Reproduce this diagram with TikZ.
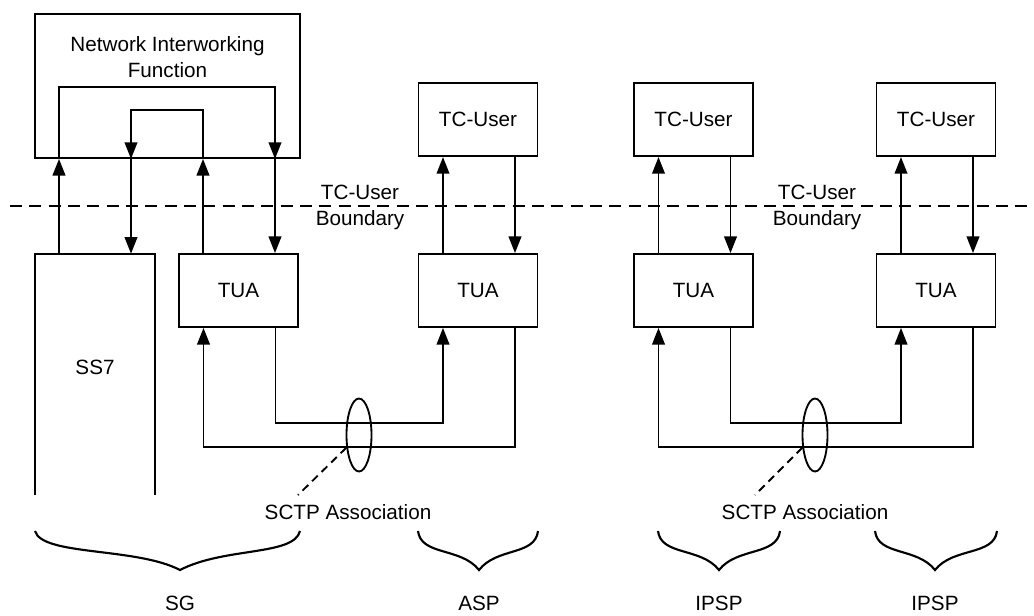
\documentclass[tikz,border=0pt]{standalone}
\usepackage{fontspec}
\setmainfont{Liberation Sans}
\usetikzlibrary{positioning, arrows.meta, shapes.geometric, calc}

\begin{document}
\begin{tikzpicture}[
  x=0.75pt, y=-0.75pt,
  every node/.style={font=\fontsize{15.5}{19.5}\selectfont},
  box/.style={draw, line width=1.4pt, minimum width=89.25pt, minimum height=54.75pt, inner sep=0pt},
  arr/.style={-{Triangle[length=12.5pt, width=9.5pt]}, line width=1.4pt},
  link/.style={line width=1.4pt},
  assoc/.style={draw, ellipse, line width=1.4pt, minimum width=18.75pt, minimum height=54.75pt, inner sep=0pt},
  brc/.style={line width=1.6pt}
]
  \useasboundingbox (0,0) rectangle (1034,615);

  % signalling gateway
  \node[draw, line width=1.4pt, minimum width=198.75pt, minimum height=108pt] (nif) at (167.5,86) {};
  \node[align=center] (niftext) at (167.5,57.5) {Network Interworking\\Function};
  \node[minimum width=90pt, minimum height=180.75pt, inner sep=0pt] (ss7) at (95,374.5) {};
  \node (ss7text) at (95,367) {SS7};
  \draw[link] (ss7.south west) -- (ss7.north west) -- (ss7.north east) -- (ss7.south east);
  \node[box] (tua1) at (238.5,290.5) {TUA};

  % ASP and IPSPs
  \node[box] (tua2) at (478,290.5) {TUA};
  \node[box, above=72pt of tua2] (usr2) {TC-User};
  \node[box] (tua3) at (693.5,290.5) {TUA};
  \node[box, above=72pt of tua3] (usr3) {TC-User};
  \node[box] (tua4) at (936,290.5) {TUA};
  \node[box, above=72pt of tua4] (usr4) {TC-User};

  % loops inside the interworking function
  \coordinate (o1) at (59,87);
  \coordinate (o2) at (275,87);
  \coordinate (i1) at (131,110);
  \coordinate (i2) at (203,110);
  \draw[arr] (o1 |- ss7.north) -- (o1 |- nif.south);
  \draw[arr] (o1 |- nif.south) -- (o1) -- (o2) -- (o2 |- nif.south);
  \draw[arr] (o2 |- nif.south) -- (o2 |- tua1.north);
  \draw[arr] (i2 |- tua1.north) -- (i2 |- nif.south);
  \draw[arr] (i2 |- nif.south) -- (i2) -- (i1) -- (i1 |- nif.south);
  \draw[arr] (i1 |- nif.south) -- (i1 |- ss7.north);

  % TC-User <-> TUA
  \draw[arr] ($(tua2.north)+(-35,0)$) -- ($(usr2.south)+(-35,0)$);
  \draw[arr] ($(usr2.south)+(37,0)$) -- ($(tua2.north)+(37,0)$);
  \draw[arr] ($(tua3.north)+(-35,0)$) -- ($(usr3.south)+(-35,0)$);
  \draw[arr] ($(usr3.south)+(37,0)$) -- ($(tua3.north)+(37,0)$);
  \draw[arr] ($(tua4.north)+(-35,0)$) -- ($(usr4.south)+(-35,0)$);
  \draw[arr] ($(usr4.south)+(37,0)$) -- ($(tua4.north)+(37,0)$);

  % SCTP associations
  \draw[arr] ($(tua2.south)+(37,0)$) -- ++(0,119) -| ($(tua1.south)+(-35,0)$);
  \draw[arr] ($(tua1.south)+(37,0)$) -- ++(0,95) -| ($(tua2.south)+(-35,0)$);
  \draw[arr] ($(tua4.south)+(37,0)$) -- ++(0,119) -| ($(tua3.south)+(-35,0)$);
  \draw[arr] ($(tua3.south)+(37,0)$) -- ++(0,95) -| ($(tua4.south)+(-35,0)$);
  \node[assoc] (assoc1) at (359,435) {};
  \node[assoc] (assoc2) at (815,435) {};
  \node (sctp1) at (348,512) {SCTP Association};
  \node (sctp2) at (805,512) {SCTP Association};
  \coordinate (lead1) at (298,495);
  \coordinate (lead2) at (755,495);
  \draw[link, dash pattern=on 6pt off 4pt] (assoc1.225) -- (lead1);
  \draw[link, dash pattern=on 6pt off 4pt] (assoc2.225) -- (lead2);

  % boundary
  \coordinate (bl) at (10,206);
  \coordinate (br) at (1034,206);
  \draw[link, dash pattern=on 9pt off 5.5pt] (bl) -- (br);
  \node[align=center] (bnd1) at (360,207) {TC-User\\Boundary};
  \node[align=center] (bnd2) at (817,207) {TC-User\\Boundary};

  % braces
  \draw[brc] (35,531) .. controls (42,556) and (136,547) .. (180,570) .. controls (224,547) and (294,556) .. (300,531);
  \draw[brc] (418,531) .. controls (421,556) and (461,547) .. (479,570) .. controls (497,547) and (535,556) .. (538,531);
  \draw[brc] (658,531) .. controls (661,556) and (701,547) .. (719,570) .. controls (737,547) and (777,556) .. (780,531);
  \draw[brc] (875,531) .. controls (878,556) and (917,547) .. (935,570) .. controls (953,547) and (994,556) .. (997,531);
  \node (sg) at (180,603) {SG};
  \node (asp) at (479,603) {ASP};
  \node (ipsp1) at (719,603) {IPSP};
  \node (ipsp2) at (935,603) {IPSP};
\end{tikzpicture}
\end{document}
